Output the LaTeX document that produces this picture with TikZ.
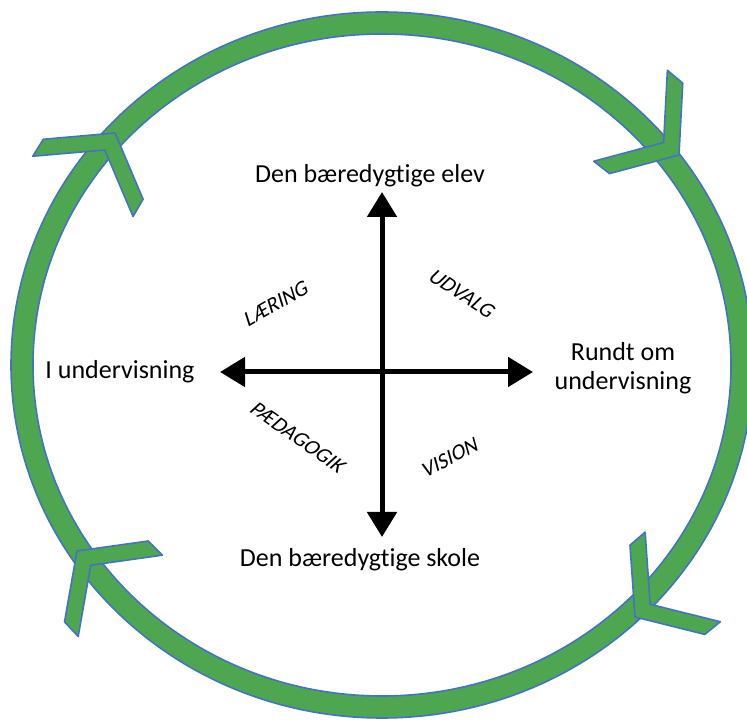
\documentclass[tikz,border=0pt]{standalone}
\usepackage{fontspec}
\setmainfont{Carlito}[Ligatures=NoCommon]
\newfontfamily\slfont{Carlito}[FakeSlant=0.22, Ligatures=NoCommon]
\usetikzlibrary{arrows.meta}
\definecolor{ringgreen}{RGB}{78,167,80}
\definecolor{ringblue}{RGB}{68,114,196}
\tikzset{
  ringpart/.style={fill=ringgreen, draw=ringblue, line width=1.6pt, line join=round},
  axisline/.style={line width=5pt, {Triangle[length=25pt,width=29pt]}-{Triangle[length=25pt,width=29pt]}},
  mainlabel/.style={font=\fontsize{26}{29}\selectfont, inner sep=0pt},
  sidelabel/.style={font=\fontsize{21.5}{24}\selectfont\slfont, inner sep=0pt},
  chev/.pic={
    \path[ringpart] (0,0) -- (-42.3,58.2) -- (-62.3,58.5) -- (-19.8,0)
      -- (-62.3,-58.5) -- (-42.3,-58.2) -- cycle;
  }
}
\begin{document}
\begin{tikzpicture}[x=1pt,y=1pt]
\useasboundingbox (0,0) rectangle (747,722);
\clip (0,0) rectangle (747,722);
\fill[white] (0,0) rectangle (747,722);
% ring
\coordinate (rc) at (382,357);
\path[ringpart, even odd rule] (rc) ellipse [x radius=371, y radius=353]
  (rc) ellipse [x radius=349, y radius=331];
% chevrons (clockwise)
\pic[rotate=59] at (115,589) {chev};
\pic[rotate=-39] at (679,567) {chev};
\pic[rotate=-140] at (635,105) {chev};
\pic[rotate=134] at (77,171) {chev};
% axes
\coordinate (aTop) at (382,530);
\coordinate (aBot) at (382,185);
\coordinate (aLeft) at (220,350);
\coordinate (aRight) at (533,350);
\draw[axisline] (aBot) -- (aTop);
\draw[axisline] (aLeft) -- (aRight);
% main labels
\node[mainlabel, anchor=base] (nElev) at (370,539) {Den bæredygtige elev};
\node[mainlabel, anchor=base] (nSkole) at (360,155) {Den bæredygtige skole};
\node[mainlabel, anchor=base] (nI) at (120,343) {I undervisning};
\node[mainlabel, align=center, anchor=center] (nRundt) at (623,354) {Rundt om\\undervisning};
% quadrant labels
\node[sidelabel, rotate=30] (lLaering) at (275,418) {LÆRING};
\node[sidelabel, rotate=-33] (lUdvalg) at (461,429) {UDVALG};
\node[sidelabel, rotate=-35] (lPaed) at (297,285) {PÆDAGOGIK};
\node[sidelabel, rotate=28] (lVision) at (449,264) {VISION};
\end{tikzpicture}
\end{document}
